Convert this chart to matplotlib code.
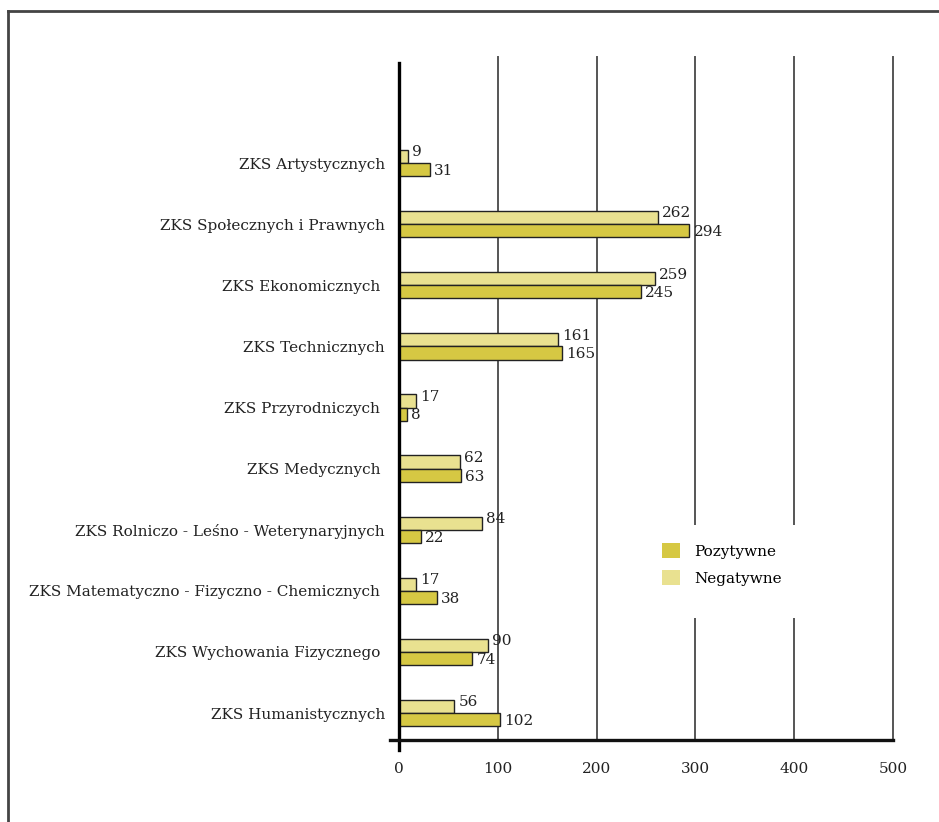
import matplotlib
matplotlib.use("Agg")
import matplotlib.pyplot as plt
from matplotlib.patches import Rectangle, Patch
from matplotlib.lines import Line2D
import numpy as np

# Data (top to bottom as in the chart)
categories = [
    "ZKS Artystycznych",
    "ZKS Społecznych i Prawnych",
    "ZKS Ekonomicznych ",
    "ZKS Technicznych",
    "ZKS Przyrodniczych ",
    "ZKS Medycznych ",
    "ZKS Rolniczo - Leśno - Weterynaryjnych",
    "ZKS Matematyczno - Fizyczno - Chemicznych ",
    "ZKS Wychowania Fizycznego ",
    "ZKS Humanistycznych",
]
negatywne = [9, 262, 259, 161, 17, 62, 84, 17, 90, 56]
pozytywne = [31, 294, 245, 165, 8, 63, 22, 38, 74, 102]
xticks = [0, 100, 200, 300, 400, 500]

col_poz = "#d6c843"
col_neg = "#e9e190"
fs = 11

plt.rcParams['font.family'] = ['DejaVu Serif']
plt.rcParams['font.size'] = fs

W, H = 939, 822
fig = plt.figure(figsize=(W / 100, H / 100), dpi=100)
ax = fig.add_axes([399 / W, 1 - 740 / H, (893 - 399) / W, (740 - 57) / H])

n = len(categories)
y = np.arange(n)[::-1]  # top category at the top
h = 0.215

ax.barh(y + h / 2, negatywne, height=h, color=col_neg, edgecolor="#222222", linewidth=1, zorder=3)
ax.barh(y - h / 2, pozytywne, height=h, color=col_poz, edgecolor="#222222", linewidth=1, zorder=3)

for yi, v in zip(y, negatywne):
    ax.annotate(str(v), (v, yi + h / 2), xytext=(3, 3), textcoords="offset points",
                va="center", ha="left", fontsize=fs, color="#222222")
for yi, v in zip(y, pozytywne):
    ax.annotate(str(v), (v, yi - h / 2), xytext=(3, -1), textcoords="offset points",
                va="center", ha="left", fontsize=fs, color="#222222")

ax.set_xlim(0, 500)
ax.set_ylim(-0.44, n - 1 + 1.735)
ax.set_yticks(y)
ax.set_yticklabels(categories)
ax.set_xticks(xticks)
ax.set_xticklabels([str(t) for t in xticks])
ax.tick_params(axis="y", length=0, pad=10, labelsize=fs, colors="#222222")
ax.tick_params(axis="x", length=0, pad=16, labelsize=fs, colors="#222222")

for s in ax.spines.values():
    s.set_visible(False)

# vertical grid lines
for t in xticks[1:]:
    ax.axvline(t, color="#555555", linewidth=1.4, zorder=1, clip_on=False)

# axes lines
ax.plot([0, 0], [-0.015, 0.991], transform=ax.transAxes, color="black", linewidth=2.4,
        clip_on=False, zorder=4)
ax.plot([-0.018, 1], [0, 0], transform=ax.transAxes, color="#111111", linewidth=2.4,
        clip_on=False, zorder=4)

# white background behind legend (cuts the grid lines)
fig.add_artist(Rectangle((652 / W, 1 - 618 / H), (805 - 652) / W, (618 - 525) / H,
                         transform=fig.transFigure, facecolor="white", edgecolor="none", zorder=2))

handles = [Patch(facecolor=col_poz, edgecolor="none", label="Pozytywne"),
           Patch(facecolor=col_neg, edgecolor="none", label="Negatywne")]
fig.legend(handles=handles, loc="upper left", bbox_to_anchor=(662 / W, 1 - 543 / H),
           frameon=False, borderpad=0, borderaxespad=0, handlelength=1.18, handleheight=1.18,
           handletextpad=0.95, labelspacing=0.72, fontsize=fs)

# outer frame (left and top only visible)
fig.add_artist(Line2D([8 / W, 8 / W], [0, 1 - 11 / H], transform=fig.transFigure,
                      color="#444444", linewidth=2))
fig.add_artist(Line2D([8 / W, 1], [1 - 11 / H, 1 - 11 / H], transform=fig.transFigure,
                      color="#444444", linewidth=2))

fig.savefig("out.png", dpi=100)
